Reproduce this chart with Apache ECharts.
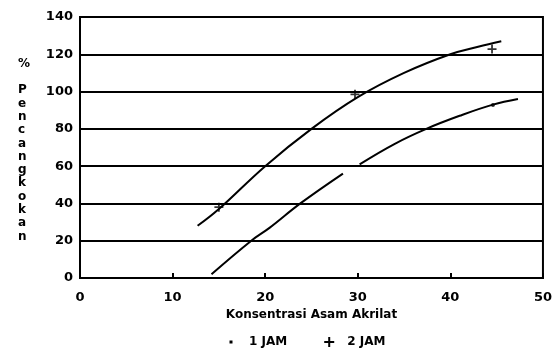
<!DOCTYPE html>
<html>
<head>
<meta charset="utf-8">
<script src="https://cdn.jsdelivr.net/npm/echarts@6/dist/echarts.min.js"></script>
<style>
html,body{margin:0;padding:0;background:#fff;}
#c{width:555px;height:348px;}
</style>
</head>
<body>
<div id="c"></div>
<script>
// Data
var xTicks = [0, 10, 20, 30, 40, 50];
var yTicks = [0, 20, 40, 60, 80, 100, 120, 140];
var curve2Jam = [[12.7, 28], [15, 37], [20, 60], [25, 80], [30, 97], [35, 110], [40, 120], [43, 124], [45.5, 127]];
var curve1Jam = [[14.2, 2], [18.5, 20], [20.5, 27], [23.8, 40], [28.4, 56], null, [30.2, 61], [34, 72], [37.4, 80], [41, 87], [44.6, 93], [47.3, 96]];
var points2Jam = [[15, 38], [29.7, 98.5], [44.5, 122.8]];
var points1Jam = [[44.6, 92.8]];
var xName = 'Konsentrasi Asam Akrilat';
var yName = '% Pencangkokan';
var legendNames = ['1 JAM', '2 JAM'];

var plusPath = 'path://M4,0 L6,0 L6,4 L10,4 L10,6 L6,6 L6,10 L4,10 L4,6 L0,6 L0,4 L4,4 Z';
var dotPath = 'path://M0,0 M10,10 M3.5,3.5 L6.5,3.5 L6.5,6.5 L3.5,6.5 Z';
var font = 'DejaVu Sans';

var yLabelText = yName.charAt(0) + '\n\n' + yName.slice(2).split('').join('\n');

var chart = echarts.init(document.getElementById('c'));
chart.setOption({
  animation: false,
  backgroundColor: '#fff',
  grid: {left: 80, right: 12, top: 17, bottom: 70, show: true, borderColor: '#000', borderWidth: 2, backgroundColor: 'transparent'},
  xAxis: {
    type: 'value', min: xTicks[0], max: xTicks[xTicks.length - 1], interval: 10,
    name: xName, nameLocation: 'middle', nameGap: 30,
    nameTextStyle: {color: '#000', fontFamily: font, fontWeight: 'bold', fontSize: 12},
    axisLine: {show: true, lineStyle: {color: '#000', width: 2}},
    axisTick: {show: true, inside: true, length: 5, lineStyle: {color: '#000', width: 2}},
    axisLabel: {color: '#000', fontFamily: font, fontWeight: 'bold', fontSize: 13, margin: 13},
    splitLine: {show: false}
  },
  yAxis: {
    type: 'value', min: yTicks[0], max: yTicks[yTicks.length - 1], interval: 20,
    axisLine: {show: true, lineStyle: {color: '#000', width: 2}},
    axisTick: {show: false},
    axisLabel: {color: '#000', fontFamily: font, fontWeight: 'bold', fontSize: 13, margin: 7},
    splitLine: {show: true, lineStyle: {color: '#000', width: 2}}
  },
  legend: {
    top: 331, left: 221, itemGap: 37, itemWidth: 10, itemHeight: 10,
    textStyle: {color: '#000', fontFamily: font, fontWeight: 'bold', fontSize: 12, padding: [0, 0, 0, 8]},
    data: [
      {name: legendNames[0], icon: dotPath, itemStyle: {color: '#000'}},
      {name: legendNames[1], icon: plusPath, itemStyle: {color: '#000'}}
    ]
  },
  graphic: [{
    type: 'text', left: 18, top: 57,
    style: {text: yLabelText, fill: '#000', font: 'bold 12px "DejaVu Sans"', lineHeight: 13.3, align: 'center'}
  }],
  series: [
    {name: legendNames[1], type: 'line', data: curve2Jam, smooth: 0.4, showSymbol: false, symbol: 'none',
     lineStyle: {color: '#000', width: 2}, itemStyle: {color: '#000'}},
    {name: legendNames[0], type: 'line', data: curve1Jam, smooth: 0.4, showSymbol: false, symbol: 'none', connectNulls: false,
     lineStyle: {color: '#000', width: 2}, itemStyle: {color: '#000'}},
    {name: legendNames[1], type: 'scatter', data: points2Jam, symbol: plusPath, symbolSize: 9, itemStyle: {color: '#000'}},
    {name: legendNames[0], type: 'scatter', data: points1Jam, symbol: 'circle', symbolSize: 4, itemStyle: {color: '#000'}}
  ]
});
</script>
</body>
</html>
